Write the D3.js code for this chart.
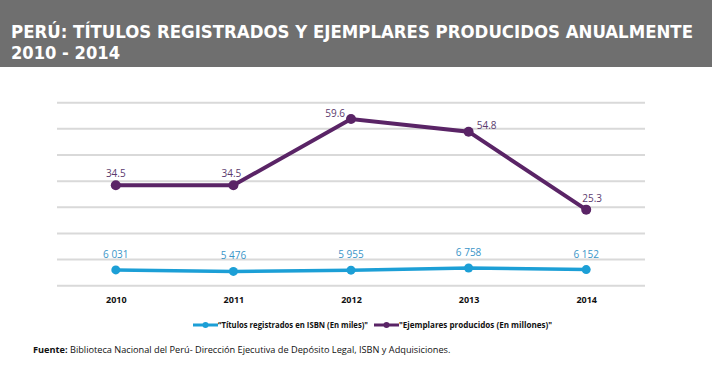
<!DOCTYPE html>
<html>
<head>
<meta charset="utf-8">
<script src="https://cdn.jsdelivr.net/npm/d3@7"></script>
<style>
  body { margin: 0; background: #fff; }
  svg { display: block; }
</style>
</head>
<body>
<div id="chart"></div>
<script>
// data
const years = ["2010", "2011", "2012", "2013", "2014"];
const titulos = [6031, 5476, 5955, 6758, 6152];          // en miles
const titulosLabels = ["6 031", "5 476", "5 955", "6 758", "6 152"];
const ejemplares = [34.5, 34.5, 59.6, 54.8, 25.3];       // en millones
const gridTicks = [0, 10, 20, 30, 40, 50, 60, 70];
const legendNames = ["\u201cTítulos registrados en ISBN (En miles)\"", "\"Ejemplares producidos (En millones)\""];

const width = 712, height = 376;
const blue = "#1c9fd6", purple = "#5a2466";

let svg = d3.select("#chart").append("svg")
    .attr("width", width)
    .attr("height", height);

// header band
svg.append("rect")
    .attr("x", 0).attr("y", 0)
    .attr("width", width).attr("height", 67)
    .attr("fill", "#6f6f6f");

svg.append("text")
    .attr("x", 11).attr("y", 38)
    .attr("textLength", 682)
    .attr("lengthAdjust", "spacingAndGlyphs")
    .attr("fill", "#fff")
    .style("font", "bold 18px 'Liberation Sans Narrow', 'DejaVu Sans Condensed', sans-serif")
    .text("PERÚ: TÍTULOS REGISTRADOS Y EJEMPLARES PRODUCIDOS ANUALMENTE");

svg.append("text")
    .attr("x", 11).attr("y", 59)
    .attr("textLength", 109)
    .attr("lengthAdjust", "spacingAndGlyphs")
    .attr("fill", "#fff")
    .style("font", "bold 18px 'Liberation Sans Narrow', 'DejaVu Sans Condensed', sans-serif")
    .text("2010 - 2014");

// scales
const xScale = d3.scalePoint()
    .domain(years)
    .range([57, 645])
    .padding(0.5);

// shared grid scale, titulos plotted in thousands
const yScale = d3.scaleLinear()
    .domain([0, 70])
    .range([285.7, 102.7]);

// ejemplares sit on their own scale in the source chart
const yScale2 = d3.scaleLinear()
    .domain([0, 70])
    .range([276.5, 91.5]);

// gridlines
svg.append("g")
    .selectAll("line")
    .data(gridTicks)
    .join("line")
    .attr("x1", 57).attr("x2", 645)
    .attr("y1", d => yScale(d)).attr("y2", d => yScale(d))
    .attr("stroke", "#d9d9d9")
    .attr("stroke-width", 2);

// x axis labels
svg.append("g")
    .attr("transform", "translate(0,303)")
    .call(d3.axisBottom(xScale).tickSize(0).tickPadding(0))
    .call(g => g.select(".domain").remove())
    .selectAll("text")
    .attr("dy", 0)
    .attr("fill", "#111")
    .style("font", "bold 9px 'Open Sans', sans-serif");

// line generators
const lineBlue = d3.line()
    .x((d, i) => xScale(years[i]))
    .y(d => yScale(d / 1000));

const linePurple = d3.line()
    .x((d, i) => xScale(years[i]))
    .y(d => yScale2(d));

svg.append("path")
    .datum(titulos)
    .attr("d", lineBlue)
    .attr("fill", "none")
    .attr("stroke", blue)
    .attr("stroke-width", 3.5);

svg.append("path")
    .datum(ejemplares)
    .attr("d", linePurple)
    .attr("fill", "none")
    .attr("stroke", purple)
    .attr("stroke-width", 4);

// markers
svg.append("g")
    .selectAll("circle")
    .data(titulos)
    .join("circle")
    .attr("cx", (d, i) => xScale(years[i]))
    .attr("cy", d => yScale(d / 1000))
    .attr("r", 4.5)
    .attr("fill", blue);

svg.append("g")
    .selectAll("circle")
    .data(ejemplares)
    .join("circle")
    .attr("cx", (d, i) => xScale(years[i]))
    .attr("cy", d => yScale2(d))
    .attr("r", 5)
    .attr("fill", purple);

// value labels
svg.append("g")
    .selectAll("text")
    .data(titulos)
    .join("text")
    .attr("x", (d, i) => xScale(years[i]))
    .attr("y", d => yScale(d / 1000) - 12)
    .attr("text-anchor", "middle")
    .attr("fill", "#3a95c8")
    .style("font", "10px 'Open Sans', sans-serif")
    .text((d, i) => titulosLabels[i]);

// label offsets for purple series (placement around the points)
const purpleDx = [0, -2, -6, 18, 6];
const purpleAnchor = ["middle", "middle", "end", "middle", "middle"];
const purpleDy = [-8, -8, -2, -3, -8];

svg.append("g")
    .selectAll("text")
    .data(ejemplares)
    .join("text")
    .attr("x", (d, i) => xScale(years[i]) + purpleDx[i])
    .attr("y", (d, i) => yScale2(d) + purpleDy[i])
    .attr("text-anchor", (d, i) => purpleAnchor[i])
    .attr("fill", "#5b3a6e")
    .style("font", "10px 'Open Sans', sans-serif")
    .text(d => d.toFixed(1));

// legend
const legendX = [193, 374];
const legendTextLen = [150, 153];
const legendColors = [blue, purple];
let legend = svg.append("g");
legendNames.forEach((name, i) => {
    legend.append("line")
        .attr("x1", legendX[i]).attr("x2", legendX[i] + 25)
        .attr("y1", 325).attr("y2", 325)
        .attr("stroke", legendColors[i])
        .attr("stroke-width", 3);
    legend.append("circle")
        .attr("cx", legendX[i] + 12.5).attr("cy", 325)
        .attr("r", 3)
        .attr("fill", legendColors[i]);
    legend.append("text")
        .attr("x", legendX[i] + 25).attr("y", 328)
        .attr("textLength", legendTextLen[i])
        .attr("lengthAdjust", "spacingAndGlyphs")
        .attr("fill", "#111")
        .style("font", "bold 8.5px 'Open Sans', sans-serif")
        .text(name);
});

// source note
let note = svg.append("text")
    .attr("x", 33).attr("y", 353)
    .attr("fill", "#111")
    .style("font", "9.2px 'Open Sans', sans-serif");
note.append("tspan").style("font-weight", "bold").text("Fuente: ");
note.append("tspan").text("Biblioteca Nacional del Perú- Dirección Ejecutiva de Depósito Legal, ISBN y Adquisiciones.");
</script>
</body>
</html>
